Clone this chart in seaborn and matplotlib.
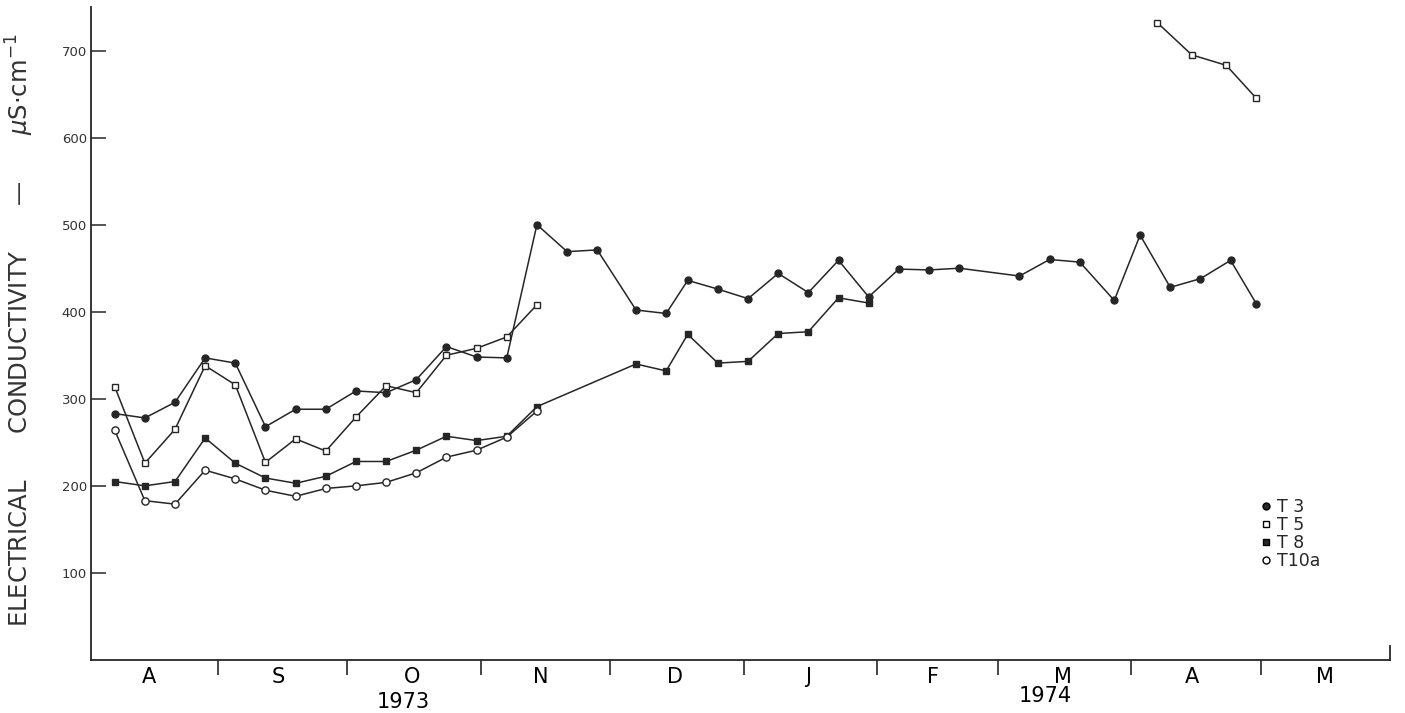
import matplotlib
matplotlib.use("Agg")
import matplotlib.pyplot as plt
from matplotlib.lines import Line2D
import seaborn as sns
import pandas as pd

# sampling dates (weekly, Aug - Nov 1973) shared by all four stations
early_dates = ["1973-08-08", "1973-08-15", "1973-08-22", "1973-08-29", "1973-09-05",
               "1973-09-12", "1973-09-19", "1973-09-26", "1973-10-03", "1973-10-10",
               "1973-10-17", "1973-10-24", "1973-10-31", "1973-11-07", "1973-11-14"]

t3_dates = early_dates + ["1973-11-21", "1973-11-28", "1973-12-07", "1973-12-14", "1973-12-19",
                          "1973-12-26", "1974-01-02", "1974-01-09", "1974-01-16", "1974-01-23",
                          "1974-01-30", "1974-02-06", "1974-02-13", "1974-02-20", "1974-03-06",
                          "1974-03-13", "1974-03-20", "1974-03-28", "1974-04-03", "1974-04-10",
                          "1974-04-17", "1974-04-24", "1974-04-30"]
t3_values = [283, 278, 296, 347, 341, 268, 288, 288, 309, 307, 322, 360, 348, 347, 500,
             469, 471, 402, 398, 436, 426, 415, 444, 422, 459, 417, 449, 448, 450,
             441, 460, 457, 413, 488, 428, 438, 459, 409]

t5_dates = early_dates + ["1974-04-07", "1974-04-15", "1974-04-23", "1974-04-30"]
t5_values = [314, 226, 265, 338, 316, 227, 254, 240, 279, 315, 307, 350, 358, 371, 408,
             732, 695, 683, 645]

t8_dates = early_dates + ["1973-12-07", "1973-12-14", "1973-12-19", "1973-12-26", "1974-01-02",
                          "1974-01-09", "1974-01-16", "1974-01-23", "1974-01-30"]
t8_values = [205, 200, 205, 255, 226, 209, 203, 211, 228, 228, 241, 257, 252, 257, 291,
             340, 332, 374, 341, 343, 375, 377, 416, 410]

t10a_dates = early_dates
t10a_values = [264, 183, 179, 218, 208, 195, 188, 197, 200, 204, 215, 233, 241, 256, 286]

month_bounds = ["1973-09-01", "1973-10-01", "1973-11-01", "1973-12-01", "1974-01-01",
                "1974-02-01", "1974-03-01", "1974-04-01", "1974-05-01"]
month_mids = ["1973-08-16", "1973-09-15", "1973-10-16", "1973-11-15", "1973-12-16",
              "1974-01-16", "1974-02-14", "1974-03-16", "1974-04-15", "1974-05-16"]
month_labels = ["A", "S", "O", "N", "D", "J", "F", "M", "A", "M"]
y_ticks = [100, 200, 300, 400, 500, 600, 700]

ink = "#262626"

sns.set_style("ticks")
plt.rcParams["font.family"] = ["DejaVu Sans"]

fig = plt.figure(figsize=(14.05, 7.13), dpi=100)
ax = fig.add_axes([91 / 1405, 1 - 660 / 713, 1299 / 1405, 653 / 713])

series = [
    ("T 3", t3_dates, t3_values, "o", ink, 5.0),
    ("T 5", t5_dates, t5_values, "s", "white", 5.0),
    ("T 8", t8_dates, t8_values, "s", ink, 5.0),
    ("T10a", t10a_dates, t10a_values, "o", "white", 5.2),
]

handles = []
for name, dates, values, marker, face, ms in series:
    df = pd.DataFrame({"date": pd.to_datetime(dates), "value": values})
    # break the line where sampling stopped for months
    df["segment"] = (df["date"].diff().dt.days > 60).cumsum()
    for _, seg in df.groupby("segment"):
        sns.lineplot(data=seg, x="date", y="value", ax=ax, color=ink, linewidth=1.1,
                     marker=marker, markersize=ms, markerfacecolor=face,
                     markeredgecolor=ink, markeredgewidth=1.0,
                     estimator=None, sort=False)
    handles.append(Line2D([], [], linestyle="none", marker=marker, markersize=5,
                          markerfacecolor=face, markeredgecolor="black", markeredgewidth=1.0))

ax.set_xlim(pd.Timestamp("1973-08-02 12:00"), pd.Timestamp("1974-05-31"))
ax.set_ylim(0, 750)

# month boundaries as ticks, month letters centred between them
ax.set_xticks(pd.to_datetime(month_bounds))
ax.set_xticklabels([])
ax.set_xticks(pd.to_datetime(month_mids), minor=True)
ax.set_xticklabels(month_labels, minor=True)
ax.tick_params(axis="x", which="major", direction="out", length=11, width=1.2, color=ink)
ax.tick_params(axis="x", which="minor", length=0, pad=5, labelsize=15, labelcolor="black")

ax.set_yticks(y_ticks)
ax.tick_params(axis="y", direction="in", length=11, width=1.1, color=ink,
               labelsize=9.5, pad=3, labelcolor="#333333")

for side in ["left", "bottom"]:
    ax.spines[side].set_linewidth(1.3)
    ax.spines[side].set_color(ink)
ax.spines["top"].set_visible(False)
ax.spines["right"].set_bounds(0, 16)
ax.spines["right"].set_linewidth(1.3)
ax.spines["right"].set_color(ink)

ax.set_xlabel("")
ax.set_ylabel("ELECTRICAL      CONDUCTIVITY      —      $\\mu$S·cm$^{-1}$",
              fontsize=17.5, color="#333333")
ax.yaxis.set_label_coords(-0.042, 0.505)

# year captions under the month letters
ax.annotate("1973", xy=(pd.Timestamp("1973-10-14"), 0), xycoords=("data", "axes fraction"),
            xytext=(0, -42), textcoords="offset pixels", ha="center", va="center",
            fontsize=15, color="black")
ax.annotate("1974", xy=(pd.Timestamp("1974-03-12"), 0), xycoords=("data", "axes fraction"),
            xytext=(0, -36), textcoords="offset pixels", ha="center", va="center",
            fontsize=15, color="black")

ax.legend(handles, [s[0] for s in series], loc="upper left",
          bbox_to_anchor=(0.894, 0.262), frameon=False, fontsize=12.5,
          handlelength=0.6, handletextpad=0.3, labelspacing=0.0, borderpad=0)

fig.savefig("out.png", dpi=100, facecolor="white")
plt.close(fig)
